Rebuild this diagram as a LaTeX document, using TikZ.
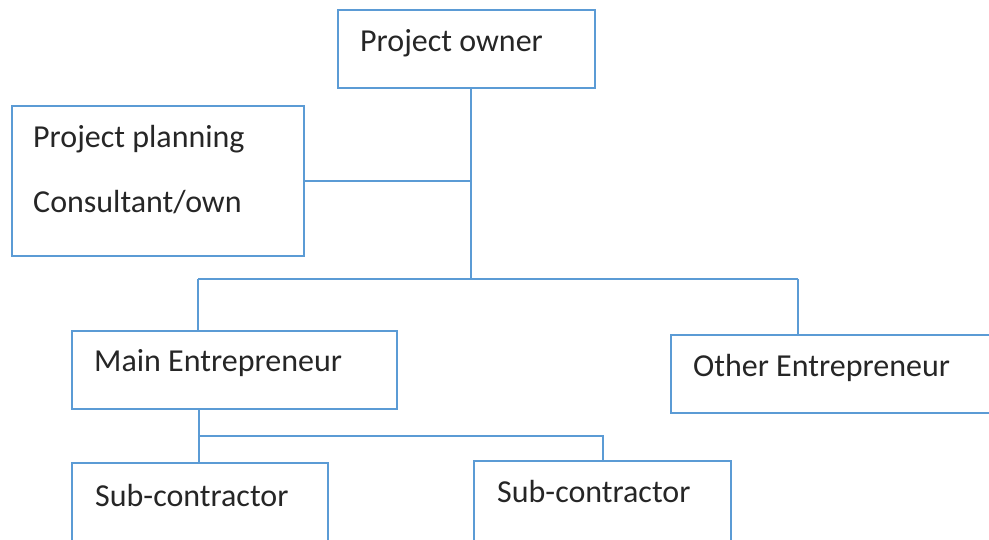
\documentclass[tikz,border=0pt]{standalone}
\usepackage{fontspec}
\setmainfont{Carlito}
\definecolor{boxblue}{HTML}{5B9BD5}
\definecolor{txtgray}{HTML}{262626}
\begin{document}
\begin{tikzpicture}[x=1pt,y=1pt,
	box/.style={draw=boxblue,line width=1.8pt,inner sep=0pt},
	link/.style={draw=boxblue,line width=1.8pt},
	txt/.style={anchor=base west,inner sep=0pt,text=txtgray,font=\fontsize{32}{38}\selectfont}]
		\useasboundingbox(0,0)rectangle(989,539);
		\clip(0,0)rectangle(989,539);
		\coordinate(trunk)at(471,260);
		\coordinate(busL)at(198,260);
		\coordinate(busR)at(798,260);
		\coordinate(subJ)at(199,103);
		\coordinate(subR)at(603,103);
		% boxes
		\node[box,minimum width=257pt,minimum height=78pt](owner)at(466.5,490){};
		\node[box,minimum width=292pt,minimum height=150pt](plan)at(158,358){};
		\node[box,minimum width=325pt,minimum height=78pt](main)at(234.5,169){};
		\node[box,minimum width=340pt,minimum height=78pt](other)at(841,165){};
		\node[box,minimum width=256pt,minimum height=90pt](subA)at(200,31){};
		\node[box,minimum width=257pt,minimum height=90pt](subB)at(602.5,33){};
		% labels
		\node[txt](ownerT)at(360,487){Project owner};
		\node[txt](planT)at(33,391){Project planning};
		\node[txt](consT)at(33,326){Consultant/own};
		\node[txt](mainT)at(94,167){Main Entrepreneur};
		\node[txt](otherT)at(693,162){Other Entrepreneur};
		\node[txt](subAT)at(95,33){Sub-contractor};
		\node[txt](subBT)at(497,37){Sub-contractor};
		% connectors
		\draw[link](owner.south-|trunk)--(trunk);
		\draw[link](plan.east)--(plan.east-|trunk);
		\draw[link](busL)--(busR);
		\draw[link](busL)--(busL|-main.north);
		\draw[link](busR)--(busR|-other.north);
		\draw[link](main.south-|subJ)--(subJ|-subA.north);
		\draw[link](subJ)--(subR)--(subR|-subB.north);
		\end{tikzpicture}
\end{document}
